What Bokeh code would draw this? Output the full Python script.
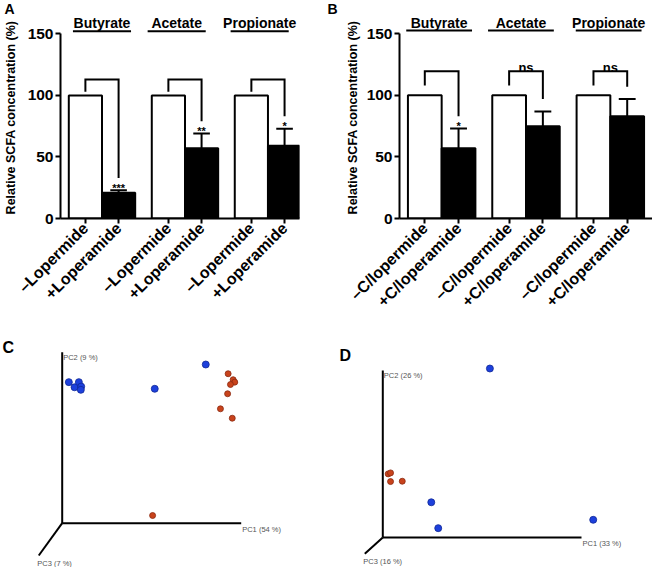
import math
from bokeh.plotting import figure
from bokeh.layouts import column, row
from bokeh.models import Range1d, FixedTicker, Label
from bokeh.core.properties import value
from bokeh.embed import file_html
from bokeh.resources import INLINE

FONT = "Liberation Sans"

# ---------------- data ----------------
groups = ["Butyrate", "Acetate", "Propionate"]
y_ticks = [0, 50, 100, 150]
y_title = "Relative SCFA concentration (%)"

a_labels = ["\u2013Lopermide", "+Loperamide"]
a_control = [100, 100, 100]
a_treated = [21, 57, 59]
a_treated_err = [2, 12, 14]
a_sig = ["***", "**", "*"]

b_labels = ["\u2013C/lopermide", "+C/loperamide"]
b_control = [100, 100, 100]
b_treated = [57, 75, 83]
b_treated_err = [16, 12, 14]
b_sig = ["*", "ns", "ns"]

c_axes = ["PC1 (54 %)", "PC2 (9 %)", "PC3 (7 %)"]
c_blue_pc1 = [0.037, 0.069, 0.093, 0.106, 0.104, 0.517, 0.802]
c_blue_pc2 = [0.825, 0.795, 0.825, 0.799, 0.780, 0.786, 0.928]
c_red_pc1 = [0.927, 0.955, 0.964, 0.940, 0.924, 0.884, 0.950, 0.505]
c_red_pc2 = [0.874, 0.839, 0.825, 0.811, 0.757, 0.669, 0.614, 0.045]

d_axes = ["PC1 (33 %)", "PC2 (26 %)", "PC3 (16 %)"]
d_blue_pc1 = [0.539, 0.244, 0.279, 1.059]
d_blue_pc2 = [1.012, 0.211, 0.056, 0.106]
d_red_pc1 = [0.027, 0.039, 0.039, 0.098]
d_red_pc2 = [0.381, 0.387, 0.335, 0.337]

top_letters = ["A", "B"]

BLUE, BLUE_EDGE = "#1d40dc", "#0f2796"
RED, RED_EDGE = "#c8431c", "#8a2a10"

W, STRIP_H, ROW1_H, ROW2_H = 652, 16, 302, 249


def letter_strip():
    p = figure(width=W, height=STRIP_H, x_range=Range1d(0, W),
               y_range=Range1d(0, STRIP_H), output_backend="svg",
               toolbar_location=None, x_axis_location=None,
               y_axis_location=None, min_border_left=0, min_border_right=0,
               min_border_top=0, min_border_bottom=0,
               outline_line_color=None)
    p.grid.visible = False
    p.text(x=[4, 327], y=[STRIP_H] * 2, text=top_letters,
           text_align="left", text_baseline="top", text_font=value(FONT),
           text_font_style="bold", text_font_size="14px",
           text_color="black")
    return p


def bar_panel(control, treated, err, sig, labels, *, width, height,
              left, right, bottom, x_end, y_end, title_shift, title_y,
              line_y, line_half, br_top, br_left_bottom, label_standoff):
    p = figure(width=width, height=height, x_range=Range1d(0, x_end),
               y_range=Range1d(0, y_end), output_backend="svg",
               toolbar_location=None, min_border_left=left,
               min_border_right=right, min_border_top=0,
               min_border_bottom=bottom, outline_line_color=None)
    p.grid.visible = False
    n = len(groups)
    centers = [5 + 10 * i for i in range(n)]
    cx = [c - 2 for c in centers]
    tx = [c + 2 for c in centers]
    p.vbar(x=cx, top=control, width=4, fill_color="white",
           line_color="black", line_width=2)
    p.vbar(x=tx, top=treated, width=4, fill_color="black",
           line_color="black", line_width=2)
    tops = [t + e for t, e in zip(treated, err)]
    p.segment(x0=tx, y0=treated, x1=tx, y1=tops, line_width=2,
              line_color="black")
    p.segment(x0=[x - 1 for x in tx], y0=tops, x1=[x + 1 for x in tx],
              y1=tops, line_width=2, line_color="black")
    # brackets
    xs = [[c, c, t, t] for c, t in zip(cx, tx)]
    ys = [[br_left_bottom, br_top, br_top, tp + 10] for tp in tops]
    p.multi_line(xs=xs, ys=ys, line_width=2, line_color="black",
                 line_join="miter")
    # significance
    st_x, st_y, st_t, ns_x, ns_y, ns_t = [], [], [], [], [], []
    for i, s in enumerate(sig):
        if s == "ns":
            ns_x.append(centers[i]); ns_y.append(br_top + 3); ns_t.append(s)
        else:
            st_x.append(tx[i]); st_y.append(tops[i] + 2); st_t.append(s)
    if st_t:
        p.text(x=st_x, y=st_y, text=st_t, text_align="center",
               text_baseline="alphabetic", text_font=value(FONT),
               text_font_style="bold", text_font_size="11px",
               text_color="black")
    if ns_t:
        p.text(x=ns_x, y=ns_y, text=ns_t, text_align="center",
               text_baseline="alphabetic", text_font=value(FONT),
               text_font_style="bold", text_font_size="13px",
               text_color="black")
    # group titles
    title_x = [c + s for c, s in zip(centers, title_shift)]
    p.text(x=title_x, y=[title_y] * n, text=groups, text_align="center",
           text_baseline="middle", text_font=value(FONT),
           text_font_style="bold", text_font_size="14px", text_color="black")
    p.segment(x0=[x - line_half for x in title_x], y0=[line_y] * n,
              x1=[x + line_half for x in title_x], y1=[line_y] * n,
              line_width=2, line_color="black")
    # axes
    xa = p.xaxis[0]
    xa.ticker = FixedTicker(ticks=cx + tx)
    xa.major_label_overrides = {**{x: labels[0] for x in cx},
                                **{x: labels[1] for x in tx}}
    xa.major_label_orientation = math.pi / 4
    xa.major_label_text_font = FONT
    xa.major_label_text_font_style = "bold"
    xa.major_label_text_font_size = "16px"
    xa.major_label_text_color = "black"
    xa.major_label_standoff = 2
    xa.axis_line_width = 2
    xa.axis_line_color = "black"
    xa.major_tick_line_width = 2
    xa.major_tick_line_color = "black"
    xa.major_tick_out = 5
    xa.major_tick_in = 0
    xa.minor_tick_line_color = None

    ya = p.yaxis[0]
    ya.ticker = FixedTicker(ticks=y_ticks)
    ya.bounds = (0, 150)
    ya.axis_label = y_title
    ya.axis_label_text_font = FONT
    ya.axis_label_text_font_style = "bold"
    ya.axis_label_text_font_size = "12.5px"
    ya.axis_label_text_color = "black"
    ya.axis_label_standoff = label_standoff
    ya.major_label_text_font = FONT
    ya.major_label_text_font_style = "bold"
    ya.major_label_text_font_size = "15.5px"
    ya.major_label_text_color = "black"
    ya.major_label_standoff = 2
    ya.axis_line_width = 2
    ya.axis_line_color = "black"
    ya.major_tick_line_width = 2
    ya.major_tick_line_color = "black"
    ya.major_tick_out = 5
    ya.major_tick_in = 0
    ya.minor_tick_line_color = None
    return p


def pcoa_panel(letter, axes, b1, b2, r1, r2, pc3_dir, *, width, height,
               xr, yr, letter_xy):
    p = figure(width=width, height=height, x_range=Range1d(*xr),
               y_range=Range1d(*yr), output_backend="svg",
               toolbar_location=None, x_axis_location=None,
               y_axis_location=None, min_border_left=0, min_border_right=0,
               min_border_top=0, min_border_bottom=0,
               outline_line_color=None)
    p.grid.visible = False
    ends_x = [1, 0, pc3_dir[0]]
    ends_y = [0, 1, pc3_dir[1]]
    p.segment(x0=[0, 0, 0], y0=[0, 0, 0], x1=ends_x, y1=ends_y,
              line_width=2, line_color="black")
    p.text(x=ends_x, y=ends_y, text=axes, x_offset=[1, 1, -1.5],
           y_offset=[6, 5, 8], text_align="left", text_baseline="middle",
           text_font=value(FONT), text_font_size="7.5px",
           text_color="#555555")
    p.scatter(x=r1, y=r2, size=6, fill_color=RED, line_color=RED_EDGE,
              line_width=0.8)
    p.scatter(x=b1, y=b2, size=7, fill_color=BLUE, line_color=BLUE_EDGE,
              line_width=0.8)
    p.add_layout(Label(x=letter_xy[0], y=letter_xy[1], x_units="screen",
                       y_units="screen", text=letter, text_font=FONT,
                       text_font_style="bold", text_font_size="16px",
                       text_baseline="top", text_align="left",
                       text_color="black"))
    return p


strip = letter_strip()
# row 1 starts at page y = 16; A: 0 at y=225, 150 at y=34
pa = bar_panel(a_control, a_treated, a_treated_err, a_sig, a_labels,
               width=326, height=ROW1_H, left=54, right=27, bottom=93,
               x_end=28.8, y_end=164.1, title_shift=[0, -1, -1],
               title_y=158.6, line_y=152.2, line_half=3.5, br_top=113,
               br_left_bottom=103, label_standoff=7)
pb = bar_panel(b_control, b_treated, b_treated_err, b_sig, b_labels,
               width=326, height=ROW1_H, left=73, right=0, bottom=92,
               x_end=30, y_end=164.06, title_shift=[-0.3, -0.6, -0.2],
               title_y=158.6, line_y=152.7, line_half=3.9, br_top=119.5,
               br_left_bottom=108, label_standoff=4)

pc = pcoa_panel("C", c_axes, c_blue_pc1, c_blue_pc2, c_red_pc1, c_red_pc2,
                (-0.131, -0.189), width=326, height=ROW2_H,
                xr=(-0.3447, 1.4765), yr=(-0.2591, 1.1971),
                letter_xy=(2, 229))
pd_ = pcoa_panel("D", d_axes, d_blue_pc1, d_blue_pc2, d_red_pc1, d_red_pc2,
                 (-0.0906, -0.0976), width=326, height=ROW2_H,
                 xr=(-0.2833, 1.3573), yr=(-0.1796, 1.3114),
                 letter_xy=(13, 221))

layout = column(strip, row(pa, pb), row(pc, pd_))

with open("out.html", "w") as f:
    f.write(file_html(layout, INLINE))
